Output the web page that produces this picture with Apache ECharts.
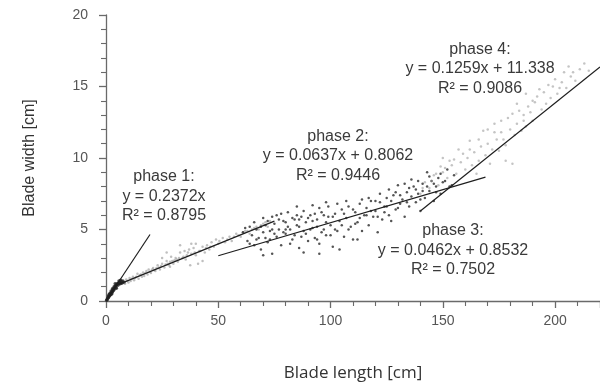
<!DOCTYPE html>
<html>
<head>
<meta charset="utf-8">
<script src="https://cdn.jsdelivr.net/npm/echarts@6/dist/echarts.min.js"></script>
<style>html,body{margin:0;padding:0;background:#fff;}#c{width:600px;height:385px;}</style>
</head>
<body>
<div id="c"></div>
<script>
// ---- data ----
const xTitle = 'Blade length [cm]';
const yTitle = 'Blade width [cm]';
const phaseNames = ['phase 1:', 'phase 2:', 'phase 3:', 'phase 4:'];
const phaseEquations = ['y = 0.2372x', 'y = 0.0637x + 0.8062', 'y = 0.0462x + 0.8532', 'y = 0.1259x + 11.338'];
const phaseR2 = ['R² = 0.8795', 'R² = 0.9446', 'R² = 0.7502', 'R² = 0.9086'];
const phaseSlopes = [0.2372, 0.0637, 0.0462, 0.1259];
const phaseIntercepts = [0, 0.8062, 0.8532, -11.338];
const phaseXStart = [0, 4, 50, 140];
const phaseXEnd = [19.6, 75, 169, 220];

const pointsPhase1 = [
  [0.3,0.05],[0.5,0.1],[0.8,0.2],[1,0.25],[1.1,0.35],[1.2,0.3],[1.5,0.35],[1.7,0.4],[1.8,0.55],[2,0.5],
  [2.2,0.45],[2.5,0.6],[2.6,0.5],[2.8,0.65],[3,0.7],[3.2,0.8],[3.4,0.75],[3.5,0.85],[3.8,0.9],[4,1.0],
  [4.3,0.95],[4.5,1.1],[4.8,1.15],[5,1.2],[5.3,1.1],[5.5,1.25],[6,1.3],[6.3,1.2],[6.8,1.35],[7,1.25],
  [7.5,1.4],[8,1.3],[2.3,0.7],[3.6,1.0],[4.6,0.9],[5.8,1.4],[1.4,0.45],[2.9,0.85],[4.1,1.2],[6.5,1.45]
];
const pointsPhase2 = [
  [8.5,1.2],[9,1.5],[10,1.3],[10.5,1.6],[11,1.4],[12,1.7],[12.5,1.45],[13,1.6],[14,1.9],[14.5,1.55],
  [15,1.8],[16,1.7],[16.5,2.0],[17,1.75],[18,2.1],[18.5,1.85],[19,2.2],[20,1.95],[21,2.3],[22,2.1],
  [23,2.5],[24,2.2],[25,2.6],[25,3.0],[26,2.35],[27,2.8],[27,3.4],[28,2.5],[28.5,2.4],[29,3.1],[30,2.6],
  [31,3.0],[32,2.75],[33,3.4],[33,3.9],[34,3.0],[35,3.5],[35.5,2.9],[36,3.2],[37,3.6],[37.5,2.5],
  [38,3.3],[38,4.0],[39,3.7],[40,3.2],[40,4.0],[41,2.6],[42,3.5],[43,3.8],[43,2.8],[44,3.4],[45,3.9],
  [46,3.6],[47,4.1],[48,3.8],[49,4.3],[50,4.0],[52,4.4],[53,4.1],[55,4.5],[56,4.2],[58,4.7],[60,4.5],
  [62,4.9],[64,4.7],[66,5.1],[68,5.0],[70,5.4],[72,5.2],
  [9.5,1.4],[11.5,1.55],[13.5,1.7],[15.5,1.85],[17.5,1.95],[19.5,2.05],[20.5,2.2],[21.5,2.15],[22.5,2.3],
  [23.5,2.35],[24.5,2.45],[26.5,2.55],[27.5,2.6],[28.5,2.75],[29.5,2.8],[30.5,2.85],[31.5,2.9],[32.5,3.0],
  [34.5,3.1],[36.5,3.4],[39.5,3.4],[41.5,3.5],[44.5,3.7],[46.5,3.8],[50.5,4.2],[54,4.3],[57,4.5],[59,4.6],
  [61,4.8],[63,4.9],[65,5.0],[67,5.2],[69,5.3],[71,5.5],[73,5.6]
];
const pointsPhase3 = [
  [63,4.2],[65,4.6],[66,3.9],[67,5.0],[68,4.4],[69,3.6],[70,4.8],[70,3.2],[71,5.3],[72,4.1],[73,4.9],
  [74,3.3],[75,5.4],[76,4.5],[76,6.0],[77,5.0],[78,3.9],[79,5.6],[80,4.7],[81,5.2],[82,4.0],[83,5.8],
  [84,4.6],[84,5.7],[85,5.3],[85,6.6],[86,3.7],[87,5.9],[88,4.9],[88,3.4],[89,5.5],[90,4.2],[91,6.0],
  [92,5.1],[92,6.7],[93,4.4],[94,5.7],[94,4.3],[95,4.0],[95,3.3],[96,6.2],[97,5.0],[98,4.6],[98,6.9],
  [99,5.9],[100,5.3],[101,3.8],[102,6.1],[103,4.9],[104,5.6],[104,3.6],[105,6.4],[106,4.5],[107,5.8],
  [108,6.6],[109,5.2],[110,4.3],[111,6.2],[112,5.5],[112,4.3],[113,6.8],[114,4.9],[115,6.0],[116,6.5],
  [117,5.3],[118,7.0],[119,5.9],[120,6.3],[121,4.8],[122,6.9],[123,5.7],[124,6.6],[125,7.2],[126,6.0],
  [127,5.6],[128,7.4],[129,6.4],[130,8.1],[131,6.8],[132,7.1],[133,5.9],[134,7.6],[135,6.6],[136,7.3],
  [137,8.0],[138,6.9],[139,7.5],[140,6.3],[141,8.2],[142,7.2],[143,9.0],[144,7.7],[145,8.4],[146,7.0],
  [147,8.0],[148,8.6],[149,7.5],[150,8.3],[152,9.2],[153,8.0],[155,8.8],
  [61,4.8],[62,5.1],[64,5.2],[64,4.0],[66,5.5],[67,4.3],[69,5.2],[70,5.8],[71,4.4],[72,5.6],[73,4.3],
  [74,5.9],[75,4.7],[77,5.7],[78,6.1],[79,4.8],[80,5.5],[81,6.2],[82,5.0],[83,4.3],[85,6.0],[86,5.2],
  [87,4.5],[88,6.3],[89,4.7],[90,5.8],[91,5.0],[93,6.1],[94,5.2],[95,6.5],[96,4.8],[97,6.0],[99,6.6],
  [100,4.6],[101,5.9],[102,5.0],[103,6.8],[105,5.3],[106,6.1],[107,7.0],[108,5.0],[110,6.4],[111,5.4],
  [113,5.8],[114,7.1],[116,6.0],[117,7.2],[118,6.3],[120,7.0],[121,5.9],[122,7.5],[124,6.2],[125,6.6],
  [126,7.8],[127,7.0],[129,7.6],[130,6.5],[131,7.4],[133,8.2],[134,6.9],[135,7.9],[136,8.5],[138,7.8],
  [139,8.4],[140,7.1],[141,7.7],[143,8.0],[144,8.7],[146,8.2],[147,7.6],[149,8.9],[151,8.4],[154,8.1],
  [98,5.5],[92,5.6],[86,5.7],[80,5.0],[74,5.0]
];
const pointsPhase4 = [
  [140,7.5],[142,8.3],[144,7.9],[146,8.8],[148,8.1],[150,9.0],[150,10.0],[152,8.6],[154,9.5],[156,8.9],
  [157,10.6],[158,9.7],[160,9.2],[161,10.0],[162,11.2],[163,9.5],[164,10.4],[165,8.9],[166,9.8],[167,10.8],
  [168,11.9],[169,10.2],[170,11.0],[171,9.6],[172,10.6],[173,12.4],[174,11.3],[175,10.5],[176,11.8],
  [177,11.3],[178,10.9],[178,9.8],[180,12.0],[181,9.6],[182,11.6],[183,12.4],[183,13.8],[185,11.9],
  [186,13.0],[187,12.2],[187,14.5],[188,13.6],[189,13.2],[190,12.6],[191,13.9],[192,14.3],[194,13.4],
  [195,14.6],[196,13.8],[198,14.2],[199,15.0],[201,14.5],[203,15.3],[205,14.9],[207,15.7],[209,15.4],[211,16.2],
  [141,7.9],[145,8.4],[147,8.9],[149,9.4],[151,9.3],[153,9.8],[155,9.9],[159,10.3],[162,10.6],[166,11.3],
  [170,12.0],[173,11.8],[176,12.6],[179,12.8],[181,13.1],[184,13.3],[186,12.6],[190,14.0],[193,14.8],
  [197,15.1],[200,15.5],[202,14.9],[204,16.0],[206,16.4],[208,16.0],[213,16.6],[215,16.1]
];

// ---- chart ----
const chart = echarts.init(document.getElementById('c'), null, {renderer: 'canvas'});

const lineSeries = phaseSlopes.map((a, i) => ({
  type: 'line',
  silent: true,
  symbol: 'none',
  z: 5,
  lineStyle: {color: '#1e1e1e', width: 1.2},
  data: [
    [phaseXStart[i], a * phaseXStart[i] + phaseIntercepts[i]],
    [phaseXEnd[i], a * phaseXEnd[i] + phaseIntercepts[i]]
  ]
}));

const labelPos = [
  {x: 164, y: [177, 197, 216]},
  {x: 338, y: [137, 156, 176]},
  {x: 453, y: [231, 251, 270]},
  {x: 480, y: [50, 69, 89]}
];
const graphics = [];
labelPos.forEach((p, i) => {
  [phaseNames[i], phaseEquations[i], phaseR2[i]].forEach((t, j) => {
    graphics.push({
      type: 'text', x: p.x, y: p.y[j], z: 10,
      style: {text: t, textAlign: 'center', textVerticalAlign: 'middle',
        font: '16px "Liberation Sans", Arial, sans-serif', fill: '#3a3a3a'}
    });
  });
});

const axisCommon = {
  type: 'value',
  splitLine: {show: false},
  axisLine: {show: true, lineStyle: {color: '#6a6a6a', width: 1.3}},
  axisTick: {show: true, inside: false, length: 7, lineStyle: {color: '#6a6a6a', width: 1.3}},
  minorTick: {show: true, splitNumber: 5, length: 5, lineStyle: {color: '#6a6a6a', width: 1.1}},
  minorSplitLine: {show: false},
  axisLabel: {color: '#555', fontSize: 14, fontFamily: '"Liberation Sans", Arial, sans-serif', showMaxLabel: false}
};

chart.setOption({
  animation: false,
  backgroundColor: '#fff',
  grid: {left: 106, right: 0, top: 15, bottom: 84, containLabel: false, outerBoundsMode: 'none'},
  xAxis: Object.assign({}, axisCommon, {
    min: 0, max: 220, interval: 50,
    axisLabel: Object.assign({}, axisCommon.axisLabel, {margin: 13}),
    name: xTitle, nameLocation: 'middle', nameGap: 64,
    nameTextStyle: {color: '#333', fontSize: 17, fontFamily: '"Open Sans", sans-serif'}
  }),
  yAxis: Object.assign({}, axisCommon, {
    min: 0, max: 20, interval: 5,
    axisLabel: Object.assign({}, axisCommon.axisLabel, {margin: 18, showMaxLabel: true}),
    name: yTitle, nameLocation: 'middle', nameGap: 68, nameRotate: 90,
    nameTextStyle: {color: '#333', fontSize: 16, fontFamily: '"Liberation Sans", Arial, sans-serif'}
  }),
  graphic: graphics,
  series: [
    {type: 'scatter', silent: true, symbolSize: 3.5, data: pointsPhase1, itemStyle: {color: '#222'}},
    {type: 'scatter', silent: true, symbolSize: 2.5, data: pointsPhase2, itemStyle: {color: 'rgba(140,140,140,0.7)'}},
    {type: 'scatter', silent: true, symbolSize: 2.5, data: pointsPhase3, itemStyle: {color: '#2a2a2a'}},
    {type: 'scatter', silent: true, symbolSize: 2.5, data: pointsPhase4, itemStyle: {color: 'rgba(150,150,150,0.7)'}}
  ].concat(lineSeries)
});
</script>
</body>
</html>
